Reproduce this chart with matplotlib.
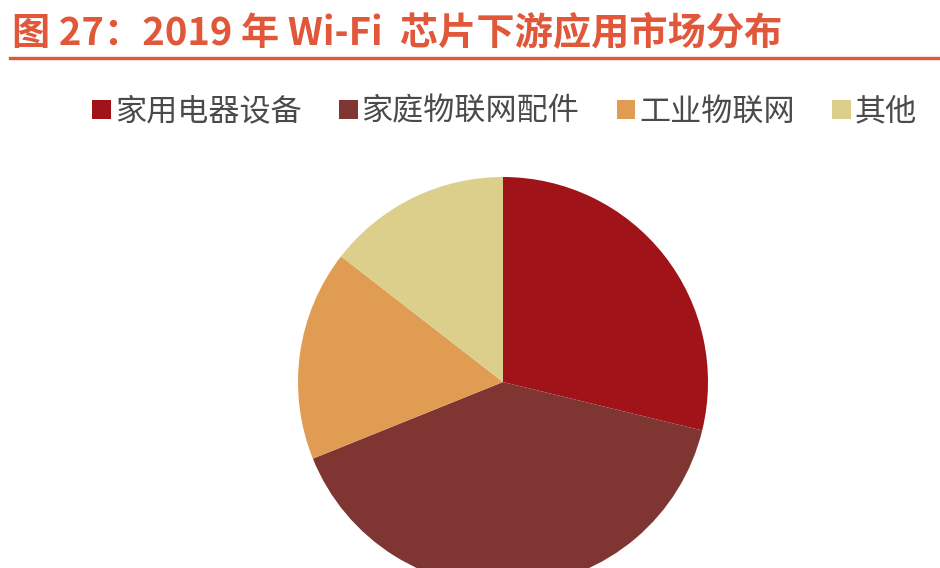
import matplotlib.pyplot as plt
from matplotlib.lines import Line2D

plt.rcParams['font.family'] = ['Noto Sans CJK SC', 'DejaVu Sans']

# data (share, %)
labels = ['家用电器设备', '家庭物联网配件', '工业物联网', '其他']
shares = [28.8, 40.1, 16.6, 14.5]
colors = ['#A01318', '#7F3532', '#E19C53', '#DCCF8B']

title = '图 27：2019 年 Wi-Fi  芯片下游应用市场分布'

W, H = 940, 568
fig = plt.figure(figsize=(W / 100, H / 100), dpi=100)
fig.patch.set_facecolor('white')

# title and the rule under it
fig.text(12 / W, 1 - 33 / H, title, fontsize=27.5, fontweight='bold',
         color='#E0573A', va='center', ha='left')
fig.add_artist(Line2D([10 / W, 1], [1 - 58 / H, 1 - 58 / H],
                      transform=fig.transFigure, color='#E0573A', lw=2.4))

# pie, centre at (503, 382) px, radius 205 px -> bottom runs off the figure
cx, cy, r = 503, 382, 205
ax = fig.add_axes([(cx - r) / W, (H - cy - r) / H, 2 * r / W, 2 * r / H])
wedges, _ = ax.pie(shares, colors=colors, startangle=90, counterclock=False,
                   radius=1.0, wedgeprops=dict(linewidth=0))
ax.set_xlim(-1, 1)
ax.set_ylim(-1, 1)
ax.set_aspect('equal')
ax.axis('off')

leg = fig.legend(wedges, labels, ncol=4, loc='center left',
                 bbox_to_anchor=(80 / W, 1 - 112 / H), frameon=False,
                 fontsize=22.4, handlelength=0.6, handleheight=0.6,
                 handletextpad=0.12, columnspacing=1.2, borderaxespad=0)
for t in leg.get_texts():
    t.set_color('#4A4A4A')
    t.set_fontweight('light')

fig.savefig('out.png', dpi=100, facecolor='white')
